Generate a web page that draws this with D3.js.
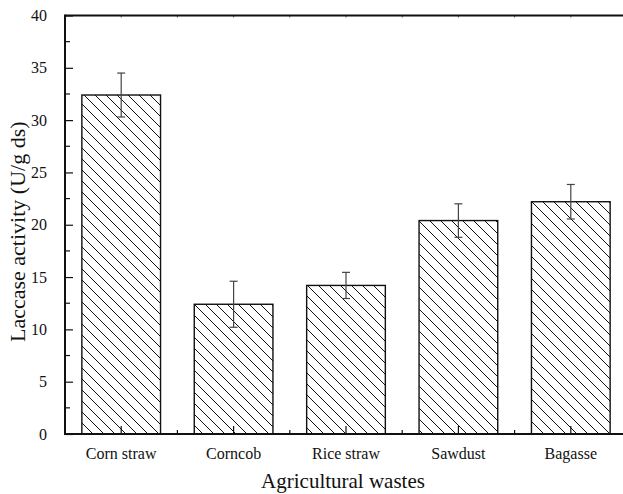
<!DOCTYPE html>
<html>
<head>
<meta charset="utf-8">
<script src="https://cdn.jsdelivr.net/npm/d3@7"></script>
<style>
  html, body { margin: 0; padding: 0; background: #fff; overflow: hidden; }
  svg { display: block; }
  svg text { font-family: "Liberation Serif", "Times New Roman", serif; fill: #111; }
</style>
</head>
<body>
<svg id="chart" width="623" height="494"></svg>
<script>
// Laccase activity by agricultural waste substrate (mean ± SD)
const categories = ["Corn straw", "Corncob", "Rice straw", "Sawdust", "Bagasse"];
const activity   = [32.4, 12.4, 14.2, 20.4, 22.2];
const errors     = [2.1, 2.2, 1.25, 1.6, 1.65];
const yTicks     = [0, 5, 10, 15, 20, 25, 30, 35, 40];

const W = 623, H = 494;
const plotLeft = 65, plotTop = 15.5, plotBottom = 434, plotRight = 627;
const serif = "'Liberation Serif', 'Times New Roman', serif";

const svg = d3.select("#chart");

// diagonal hatch fill for the bars
const defs = svg.append("defs");
const pat = defs.append("pattern")
  .attr("id", "hatch")
  .attr("patternUnits", "userSpaceOnUse")
  .attr("width", 11).attr("height", 11);
pat.append("rect").attr("width", 11).attr("height", 11).attr("fill", "#fff");
pat.append("path")
  .attr("d", "M-1,-1 L12,12 M-6.5,4.5 L1,12 M4.5,-6.5 L12,1")
  .attr("stroke", "#111").attr("stroke-width", 1);

const x = d3.scaleBand()
  .domain(categories)
  .range([plotLeft, plotRight])
  .paddingInner(0.3)
  .paddingOuter(0.15);

const y = d3.scaleLinear().domain([0, 40]).range([plotBottom, plotTop]);

// bars
svg.append("g").selectAll("rect")
  .data(categories)
  .join("rect")
  .attr("x", d => x(d))
  .attr("y", (d, i) => y(activity[i]))
  .attr("width", x.bandwidth())
  .attr("height", (d, i) => y(0) - y(activity[i]))
  .attr("fill", "url(#hatch)")
  .attr("stroke", "#111")
  .attr("stroke-width", 1.4);

// error bars
const eg = svg.append("g").attr("stroke", "#444").attr("stroke-width", 1.2);
categories.forEach((c, i) => {
  const cx = x(c) + x.bandwidth() / 2;
  const hi = y(activity[i] + errors[i]);
  const lo = y(activity[i] - errors[i]);
  eg.append("line").attr("x1", cx).attr("x2", cx).attr("y1", hi).attr("y2", lo);
  eg.append("line").attr("x1", cx - 4).attr("x2", cx + 4).attr("y1", hi).attr("y2", hi);
  eg.append("line").attr("x1", cx - 4).attr("x2", cx + 4).attr("y1", lo).attr("y2", lo);
});

// left axis with inward ticks
const yAxis = d3.axisLeft(y).tickValues(yTicks).tickSize(-8).tickPadding(18).tickFormat(d3.format("d"));
const ya = svg.append("g").attr("transform", `translate(${plotLeft},0)`).call(yAxis)
  .attr("font-family", serif).attr("font-size", 16);
ya.select(".domain").remove();
ya.selectAll(".tick line").attr("stroke", "#111").attr("stroke-width", 1.2);
ya.selectAll("text").attr("fill", "#111");

// minor y ticks
const yMinor = d3.range(2.5, 40, 5);
svg.append("g").selectAll("line").data(yMinor).join("line")
  .attr("x1", plotLeft).attr("x2", plotLeft + 5)
  .attr("y1", d => y(d)).attr("y2", d => y(d))
  .attr("stroke", "#111").attr("stroke-width", 1.2);

// bottom axis: tall ticks at category centres, short ticks at band edges
const xAxis = d3.axisBottom(x).tickSize(-8).tickPadding(14);
const xa = svg.append("g").attr("transform", `translate(0,${plotBottom})`).call(xAxis)
  .attr("font-family", serif).attr("font-size", 16);
xa.select(".domain").remove();
xa.selectAll(".tick line").attr("stroke", "#111").attr("stroke-width", 1.2);
xa.selectAll("text").attr("fill", "#111");

const edges = categories.slice(1).map(c => x(c) - x.step() * x.paddingInner() / 2);
svg.append("g").selectAll("line").data(edges).join("line")
  .attr("x1", d => d).attr("x2", d => d)
  .attr("y1", plotBottom).attr("y2", plotBottom - 4)
  .attr("stroke", "#111").attr("stroke-width", 1.2);

// top axis mirror ticks
const centres = categories.map(c => x(c) + x.bandwidth() / 2);
svg.append("g").selectAll("line").data(centres.concat(edges)).join("line")
  .attr("x1", d => d).attr("x2", d => d)
  .attr("y1", plotTop).attr("y2", plotTop + 2)
  .attr("stroke", "#555").attr("stroke-width", 1);

// frame lines
const frame = svg.append("g").attr("stroke", "#111").attr("stroke-width", 2).attr("fill", "none");
frame.append("line").attr("x1", plotLeft).attr("x2", W).attr("y1", plotBottom).attr("y2", plotBottom);
frame.append("line").attr("x1", plotLeft).attr("x2", W).attr("y1", plotTop).attr("y2", plotTop);
frame.append("line").attr("x1", plotLeft).attr("x2", plotLeft).attr("y1", plotTop - 1).attr("y2", plotBottom + 1);

// axis titles
svg.append("text")
  .attr("x", (plotLeft + plotRight) / 2 - 3).attr("y", 488)
  .attr("text-anchor", "middle").attr("font-size", 21)
  .text("Agricultural wastes");

svg.append("text")
  .attr("transform", `translate(25,${(plotTop + plotBottom) / 2 + 7}) rotate(-90)`)
  .attr("text-anchor", "middle").attr("font-size", 22)
  .text("Laccase activity (U/g ds)");
</script>
</body>
</html>
